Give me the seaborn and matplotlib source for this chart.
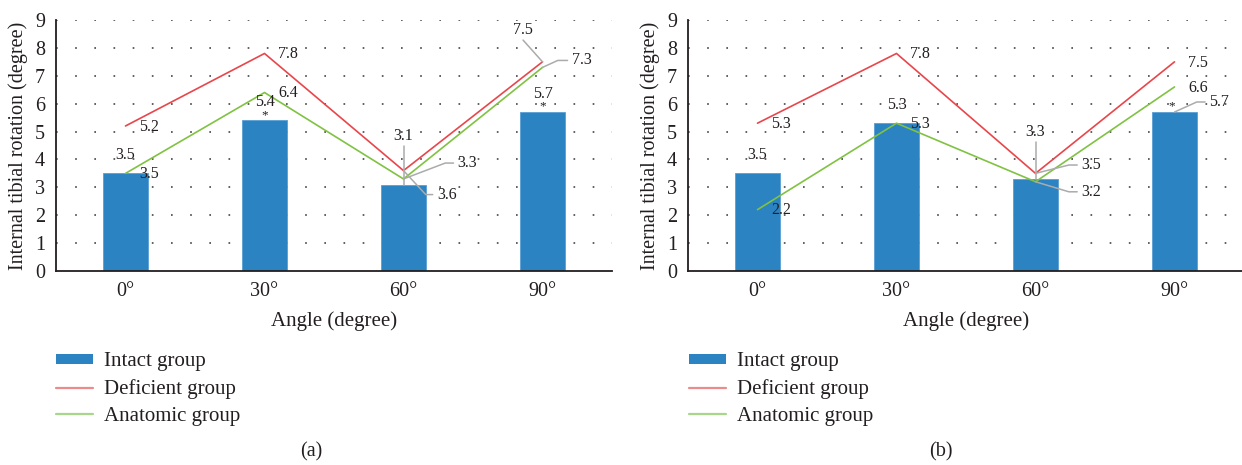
import matplotlib
matplotlib.use('Agg')
import matplotlib.pyplot as plt
from matplotlib.patches import Patch
from matplotlib.lines import Line2D
import numpy as np
import pandas as pd
import seaborn as sns

# values
angles = ['0°', '30°', '60°', '90°']
intact_a = [3.5, 5.4, 3.1, 5.7]
deficient_a = [5.2, 7.8, 3.6, 7.5]
anatomic_a = [3.5, 6.4, 3.3, 7.3]
intact_b = [3.5, 5.3, 3.3, 5.7]
deficient_b = [5.3, 7.8, 3.5, 7.5]
anatomic_b = [2.2, 5.3, 3.2, 6.6]
star_a = [False, True, False, True]
star_b = [False, False, False, True]

BLUE = '#2b83c2'
RED = '#e8464b'
GREEN = '#80c242'
GRAY = '#ababab'
TXT = '#231f20'
FONT = 'Liberation Serif'
VFS = 11.5  # value labels

sns.set_theme(style='white')
plt.rcParams['font.family'] = [FONT, 'DejaVu Serif']
plt.rcParams['text.color'] = TXT


def vlabel(ax, x, y, txt, dx=0.1, dy=-0.03, ha='left'):
    ax.text(x + dx, y + dy, txt, ha=ha, va='center', fontsize=VFS, color=TXT, zorder=6)


def leader(ax, x, y, txt, dx, dy, tail=0.0):
    x1, y1 = x + dx, y + dy
    x2 = x1 + tail
    ax.plot([x, x1, x2], [y, y1, y1], color=GRAY, lw=1.1, zorder=5)
    if tail:
        ax.text(x2 + 0.03, y1, txt, ha='left', va='center', fontsize=VFS, color=TXT, zorder=6)
    else:
        ax.text(x1, y1 + 0.06, txt, ha='center', va='bottom', fontsize=VFS, color=TXT, zorder=6)


def panel(ax, intact, deficient, anatomic):
    pos = np.arange(len(angles))
    df = pd.DataFrame({'angle': angles, 'pos': pos, 'intact': intact,
                       'deficient': deficient, 'anatomic': anatomic})
    for yv in range(1, 10):
        ax.axhline(yv, color='#444444', lw=1.2, ls=(0, (1, 10.5)), zorder=0)
    sns.barplot(data=df, x='angle', y='intact', color=BLUE, saturation=1,
                width=0.32, edgecolor='#5a9fd6', linewidth=0.6, ax=ax, zorder=2)
    sns.lineplot(data=df, x='pos', y='deficient', color=RED, lw=1.2, ax=ax, zorder=3)
    sns.lineplot(data=df, x='pos', y='anatomic', color=GREEN, lw=1.2, ax=ax, zorder=3)

    ax.set_xlim(-0.5, 3.5)
    ax.set_ylim(0, 9)
    ax.set_yticks(range(10))
    ax.set_xticks(pos)
    ax.set_xticklabels(angles)
    ax.tick_params(axis='both', length=0, labelsize=14.5, colors=TXT)
    ax.tick_params(axis='y', pad=8)
    ax.tick_params(axis='x', pad=8)
    for lab in ax.get_xticklabels() + ax.get_yticklabels():
        lab.set_fontfamily(FONT)
    ax.set_xlabel('Angle (degree)', fontsize=15, color=TXT, labelpad=7)
    ax.set_ylabel('Internal tibial rotation (degree)', fontsize=14.5, color=TXT, labelpad=5)
    for s in ['top', 'right']:
        ax.spines[s].set_visible(False)
    for s in ['left', 'bottom']:
        ax.spines[s].set_color('#231f20')
        ax.spines[s].set_linewidth(1.3)
    return pos


fig = plt.figure(figsize=(12.42, 4.65), dpi=100)
W, H = 1242, 465
ax_a = fig.add_axes([56 / W, 1 - 271 / H, (612 - 56) / W, 251 / H])
ax_b = fig.add_axes([688 / W, 1 - 271 / H, (1244 - 688) / W, 251 / H])

# panel (a)
pos = panel(ax_a, intact_a, deficient_a, anatomic_a)
for i in [0, 1, 3]:
    ax_a.text(pos[i], intact_a[i] + 0.36, f'{intact_a[i]:.1f}', ha='center', va='bottom',
              fontsize=VFS, color=TXT)
    if star_a[i]:
        ax_a.text(pos[i], intact_a[i] - 0.02, '*', ha='center', va='bottom', fontsize=9.5, color=TXT)
leader(ax_a, pos[2], intact_a[2], f'{intact_a[2]:.1f}', 0, 1.4)
for i in [0, 1]:
    vlabel(ax_a, pos[i], deficient_a[i], f'{deficient_a[i]:.1f}')
    vlabel(ax_a, pos[i], anatomic_a[i], f'{anatomic_a[i]:.1f}')
leader(ax_a, pos[2], deficient_a[2], f'{deficient_a[2]:.1f}', 0.16, -0.86, 0.05)
leader(ax_a, pos[2], anatomic_a[2], f'{anatomic_a[2]:.1f}', 0.3, 0.57, 0.06)
leader(ax_a, pos[3], deficient_a[3], f'{deficient_a[3]:.1f}', -0.14, 0.78)
leader(ax_a, pos[3], anatomic_a[3], f'{anatomic_a[3]:.1f}', 0.11, 0.25, 0.07)

# panel (b)
pos = panel(ax_b, intact_b, deficient_b, anatomic_b)
for i in [0, 1]:
    ax_b.text(pos[i], intact_b[i] + 0.36, f'{intact_b[i]:.1f}', ha='center', va='bottom',
              fontsize=VFS, color=TXT)
leader(ax_b, pos[2], intact_b[2], f'{intact_b[2]:.1f}', 0, 1.34)
leader(ax_b, pos[3], intact_b[3], f'{intact_b[3]:.1f}', 0.16, 0.36, 0.06)
ax_b.text(pos[3] - 0.02, intact_b[3] - 0.02, '*', ha='center', va='bottom', fontsize=9.5, color=TXT)
for i in [0, 1, 3]:
    vlabel(ax_b, pos[i], deficient_b[i], f'{deficient_b[i]:.1f}')
    vlabel(ax_b, pos[i], anatomic_b[i], f'{anatomic_b[i]:.1f}')
leader(ax_b, pos[2], deficient_b[2], f'{deficient_b[2]:.1f}', 0.24, 0.3, 0.06)
leader(ax_b, pos[2], anatomic_b[2], f'{anatomic_b[2]:.1f}', 0.24, -0.36, 0.06)

# legends and panel tags
handles = [Patch(facecolor=BLUE, edgecolor='none'),
           Line2D([], [], color='#ec8b8b', lw=1.6),
           Line2D([], [], color='#a8d68a', lw=1.6)]
names = ['Intact group', 'Deficient group', 'Anatomic group']
for x0, tag, xt in [(48, '(a)', 311), (681, '(b)', 941)]:
    fig.legend(handles, names, loc='upper left', bbox_to_anchor=(x0 / W, 1 - 344 / H),
               frameon=False, fontsize=15, handlelength=1.75, handleheight=0.4,
               handletextpad=0.55, labelspacing=0.37, borderaxespad=0)
    fig.text(xt / W, 1 - 452 / H, tag, ha='center', va='center', fontsize=14.5, color=TXT)

fig.savefig('out.png', dpi=100)
